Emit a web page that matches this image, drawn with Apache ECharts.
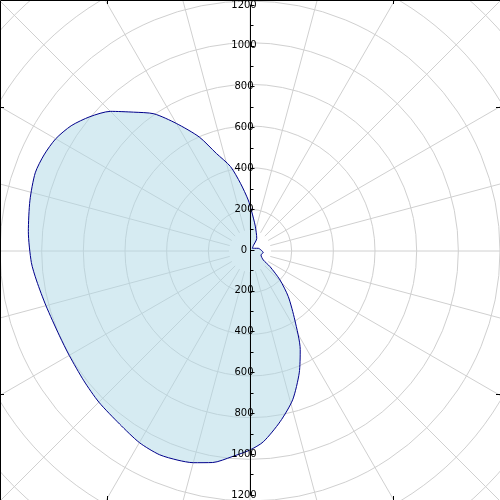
<!DOCTYPE html>
<html>
<head>
<meta charset="utf-8">
<script src="https://cdn.jsdelivr.net/npm/echarts@6/dist/echarts.min.js"></script>
<style>
    html, body { margin: 0; padding: 0; background: #ffffff; }
    #chart { width: 500px; height: 500px; }
</style>
</head>
<body>
<div id="chart"></div>
<script>
// angle in degrees (counter-clockwise from east), radius
var angles = [0, 18, 30, 49, 58, 62, 78, 87.5, 92, 98, 103, 109, 114, 120, 125, 130, 135, 140, 145, 150, 155, 160, 167, 175, 183, 188, 195, 204, 210, 218, 225, 233, 240, 246, 251, 255, 260, 265, 270, 274, 280, 286, 292, 297, 303, 310, 316, 322, 326, 340, 354, 360];
var radii = [58, 42, 26, 17, 30, 69, 122, 189, 245, 328, 416, 495, 599, 707, 804, 870, 948, 1003, 1048, 1077, 1091, 1097, 1084, 1068, 1051, 1034, 1014, 1001, 1002, 1012, 1026, 1040, 1062, 1070, 1062, 1052, 1031, 991, 955, 918, 832, 743, 631, 531, 395, 286, 200, 122, 77, 56, 64, 58];

// vertical axis through the centre
var yMin = -1200;
var yMax = 1200;
var yStep = 200;

// polar grid
var ringStep = 200;
var ringMax = 1800;
var spokeStep = 15;

var points = [];
for (var i = 0; i < angles.length; i++) {
    points.push([radii[i], angles[i]]);
}

var chart = echarts.init(document.getElementById('chart'));
var gridColor = '#d0d0d0';
var option = {
    animation: false,
    backgroundColor: '#ffffff',
    polar: [
        { center: [250, 251], radius: 375 },
        { center: [250, 251], radius: [21, 375] }
    ],
    radiusAxis: [
        {
            polarIndex: 0, type: 'value', min: 0, max: ringMax, interval: ringStep,
            axisLine: { show: false }, axisTick: { show: false }, axisLabel: { show: false },
            splitLine: { show: true, lineStyle: { color: gridColor, width: 1 } }
        },
        {
            polarIndex: 1, type: 'value', min: 0, max: ringMax,
            axisLine: { show: false }, axisTick: { show: false }, axisLabel: { show: false },
            splitLine: { show: false }
        }
    ],
    angleAxis: [
        {
            polarIndex: 0, type: 'value', min: 0, max: 360, startAngle: 0, clockwise: false,
            axisLine: { show: false }, axisTick: { show: false }, axisLabel: { show: false },
            splitLine: { show: false }
        },
        {
            polarIndex: 1, type: 'value', min: 0, max: 360, interval: spokeStep, startAngle: 0, clockwise: false,
            axisLine: { show: false }, axisTick: { show: false }, axisLabel: { show: false },
            splitLine: { show: true, lineStyle: { color: gridColor, width: 1 } }
        }
    ],
    grid: { left: 250, width: 1, top: 1, height: 500 },
    xAxis: { type: 'value', show: false, min: -1, max: 1 },
    yAxis: {
        type: 'value',
        position: 'left',
        min: yMin,
        max: yMax,
        interval: yStep,
        z: 10,
        axisLine: { show: true, lineStyle: { color: '#000000', width: 1 } },
        axisTick: { show: true, inside: true, length: 4, lineStyle: { color: '#000000' } },
        minorTick: { show: true, splitNumber: 2, length: 3, lineStyle: { color: '#000000' } },
        splitLine: { show: false },
        axisLabel: {
            color: '#000000',
            fontFamily: 'DejaVu Sans',
            fontSize: 10,
            margin: 6,
            align: 'center',
            padding: [4, 0, 0, 0],
            formatter: function (v) { return String(Math.abs(v)); }
        }
    },
    graphic: [
        { type: 'rect', z: 20, shape: { x: 0.5, y: 0.5, width: 500, height: 500 }, style: { fill: 'none', stroke: '#000000', lineWidth: 1 } },
        { type: 'line', z: 20, shape: { x1: 107.5, y1: 0, x2: 107.5, y2: 4 }, style: { stroke: '#000000' } },
        { type: 'line', z: 20, shape: { x1: 393.5, y1: 0, x2: 393.5, y2: 4 }, style: { stroke: '#000000' } },
        { type: 'line', z: 20, shape: { x1: 107.5, y1: 500, x2: 107.5, y2: 496 }, style: { stroke: '#000000' } },
        { type: 'line', z: 20, shape: { x1: 393.5, y1: 500, x2: 393.5, y2: 496 }, style: { stroke: '#000000' } },
        { type: 'line', z: 20, shape: { x1: 0, y1: 107.5, x2: 4, y2: 107.5 }, style: { stroke: '#000000' } },
        { type: 'line', z: 20, shape: { x1: 0, y1: 394.5, x2: 4, y2: 394.5 }, style: { stroke: '#000000' } },
        { type: 'line', z: 20, shape: { x1: 500, y1: 107.5, x2: 496, y2: 107.5 }, style: { stroke: '#000000' } },
        { type: 'line', z: 20, shape: { x1: 500, y1: 394.5, x2: 496, y2: 394.5 }, style: { stroke: '#000000' } }
    ],
    series: [
        {
            type: 'line',
            coordinateSystem: 'polar',
            polarIndex: 0,
            data: points,
            showSymbol: false,
            symbol: 'none',
            smooth: 0.25,
            lineStyle: { color: '#00008b', width: 1 },
            areaStyle: { color: '#add8e6', opacity: 0.5, origin: 'start' }
        }
    ]
};
chart.setOption(option);
</script>
</body>
</html>
